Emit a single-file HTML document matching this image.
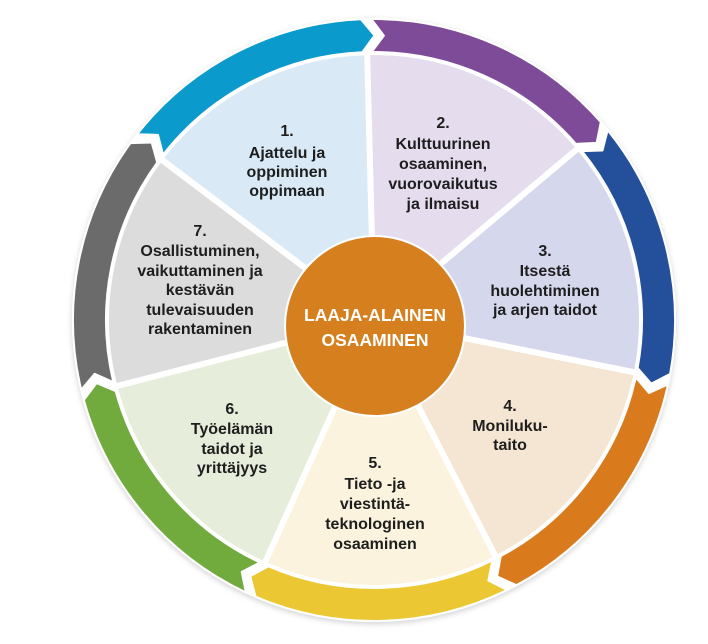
<!DOCTYPE html>
<html><head><meta charset="utf-8"><style>
html,body{margin:0;padding:0;background:#fff;width:708px;height:644px;overflow:hidden}
svg{display:block}
text{font-family:"Liberation Sans",sans-serif;font-weight:bold;font-size:16px;fill:#1e1e1e;text-anchor:middle}
.c{fill:#fff;font-size:17.5px}
</style></head><body>
<svg width="708" height="644" viewBox="0 0 708 644">
<defs>
<path id="w" d="M0,0 L0,-268 A268,268 0 0 1 209.5,-167.1 Z"/>
<path id="r" d="M5.25,-300.95 A301,301 0 0 1 231.9,-191.9 L227.2,-171.2 L206.5,-170.8 A268,268 0 0 0 4.68,-267.96 L17.37,-283.97 Z"/>
<filter id="sh" x="-10%" y="-10%" width="120%" height="120%"><feDropShadow dx="0" dy="2" stdDeviation="3" flood-color="#000" flood-opacity="0.18"/></filter>
</defs>
<g transform="translate(374,320)">
<g filter="url(#sh)">
<circle r="302" fill="#fff"/>
</g>
<g stroke="#fff" stroke-width="6" stroke-linejoin="round">
<use href="#w" transform="rotate(-1.5)" fill="#e5dcee"/>
<use href="#w" transform="rotate(49.93)" fill="#d5d8ec"/>
<use href="#w" transform="rotate(101.36)" fill="#f5e6d3"/>
<use href="#w" transform="rotate(152.79)" fill="#fbf3dd"/>
<use href="#w" transform="rotate(204.2)" fill="#e6eedb"/>
<use href="#w" transform="rotate(255.6)" fill="#dcdcdc"/>
<use href="#w" transform="rotate(307.1)" fill="#d9eaf6"/>
</g>
<g stroke="#fff" stroke-width="2" stroke-linejoin="round">
<use href="#r" transform="rotate(-1.5)" fill="#7d4b97"/>
<use href="#r" transform="rotate(49.93)" fill="#244f9b"/>
<use href="#r" transform="rotate(101.36)" fill="#d97b1d"/>
<use href="#r" transform="rotate(152.79)" fill="#ebc833"/>
<use href="#r" transform="rotate(204.2)" fill="#72ab3d"/>
<use href="#r" transform="rotate(255.6)" fill="#6b6b6b"/>
<use href="#r" transform="rotate(307.1)" fill="#0a9acc"/>
</g>
</g>
<circle cx="375" cy="326" r="91" fill="#fff"/>
<circle cx="375" cy="326" r="89" fill="#d67f1e"/>
<text class="c" x="375" y="321">LAAJA-ALAINEN</text>
<text class="c" x="375" y="346">OSAAMINEN</text>

<text x="287" y="136">1.</text>
<text x="287" y="158">Ajattelu ja</text>
<text x="287" y="177">oppiminen</text>
<text x="287" y="196">oppimaan</text>

<text x="443" y="128">2.</text>
<text x="443" y="149">Kulttuurinen</text>
<text x="443" y="169">osaaminen,</text>
<text x="443" y="189">vuorovaikutus</text>
<text x="443" y="209">ja ilmaisu</text>

<text x="545" y="256">3.</text>
<text x="545" y="276">Itsestä</text>
<text x="545" y="296">huolehtiminen</text>
<text x="545" y="315">ja arjen taidot</text>

<text x="510" y="411">4.</text>
<text x="510" y="431">Moniluku-</text>
<text x="510" y="450">taito</text>

<text x="375" y="468">5.</text>
<text x="375" y="489">Tieto -ja</text>
<text x="375" y="509">viestintä-</text>
<text x="375" y="529">teknologinen</text>
<text x="375" y="549">osaaminen</text>

<text x="232" y="414">6.</text>
<text x="232" y="434">Työelämän</text>
<text x="232" y="454">taidot ja</text>
<text x="232" y="473">yrittäjyys</text>

<text x="200" y="236">7.</text>
<text x="200" y="256">Osallistuminen,</text>
<text x="200" y="276">vaikuttaminen ja</text>
<text x="200" y="295">kestävän</text>
<text x="200" y="315">tulevaisuuden</text>
<text x="200" y="334">rakentaminen</text>
</svg>
</body></html>
